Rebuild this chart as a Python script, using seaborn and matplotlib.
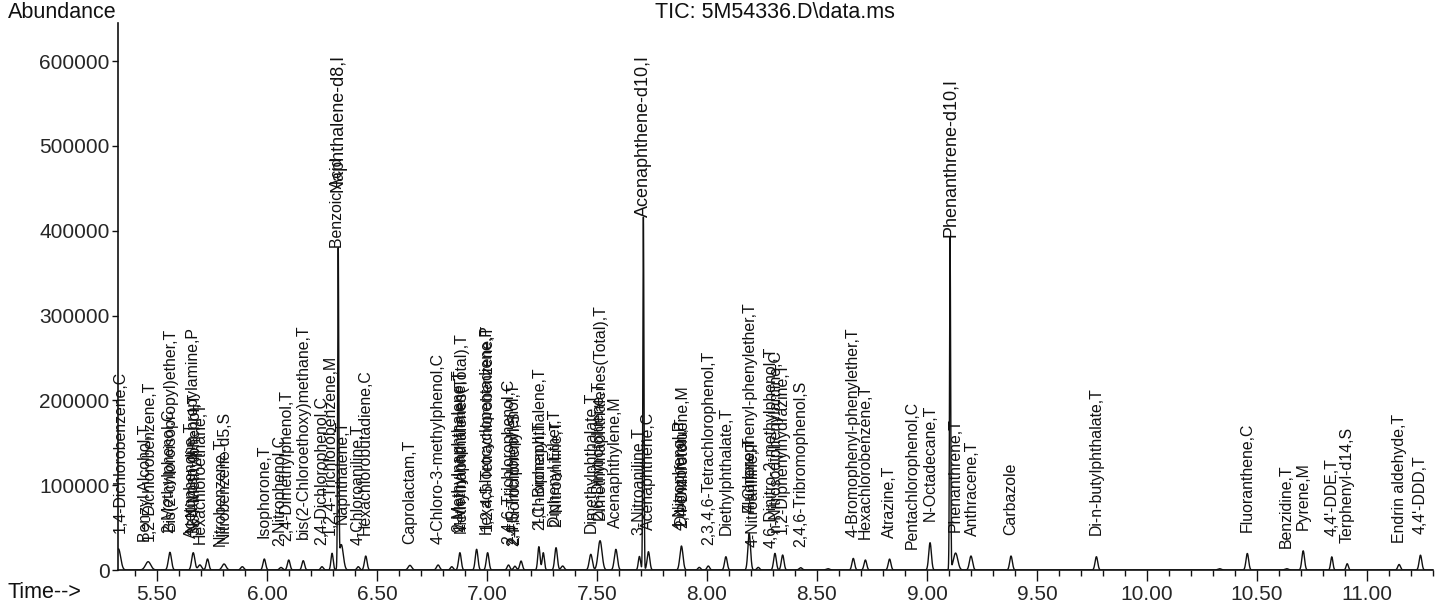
import numpy as np
import pandas as pd
import matplotlib
matplotlib.use("Agg")
import matplotlib.pyplot as plt
from matplotlib.ticker import MultipleLocator, FixedLocator, FuncFormatter
import seaborn as sns

# ---- peak table of the total ion chromatogram (retention time, abundance, width) ----
peak_times = [5.325, 5.46, 5.559, 5.665, 5.695, 5.73, 5.805, 5.888, 5.988, 6.064,
              6.099, 6.165, 6.25, 6.296, 6.324, 6.338, 6.415, 6.449, 6.65, 6.778,
              6.84, 6.877, 6.953, 7.003, 7.098, 7.127, 7.155, 7.236, 7.256, 7.314,
              7.344, 7.472, 7.514, 7.586, 7.693, 7.711, 7.734, 7.884, 7.965, 8.006,
              8.086, 8.192, 8.233, 8.309, 8.344, 8.426, 8.55, 8.665, 8.72, 8.83,
              9.014, 9.105, 9.13, 9.2, 9.382, 9.77, 10.33, 10.456, 10.635, 10.71,
              10.84, 10.91, 11.146, 11.243]
peak_heights = [25000, 9800, 20900, 20400, 6000, 13000, 7100, 3900, 13000, 3000,
                11800, 11000, 3900, 19700, 371000, 30000, 3900, 16500, 5500, 5900,
                3900, 20400, 24400, 20400, 5900, 4500, 10600, 27500, 20400, 26300,
                4700, 18500, 34600, 24400, 16000, 416000, 21600, 28300, 3100, 4700,
                15700, 43200, 3100, 19600, 17700, 2700, 1500, 13700, 11800, 12900,
                32200, 392000, 20000, 16500, 16500, 15700, 1500, 19500, 1500, 22600,
                15500, 7400, 6500, 17500]
peak_widths = [0.010, 0.012, 0.007, 0.007, 0.008, 0.006, 0.009, 0.007, 0.006, 0.007,
               0.006, 0.006, 0.006, 0.005, 0.0025, 0.009, 0.006, 0.006, 0.008, 0.007,
               0.006, 0.006, 0.006, 0.006, 0.006, 0.006, 0.006, 0.005, 0.005, 0.006,
               0.007, 0.007, 0.009, 0.007, 0.005, 0.0025, 0.006, 0.007, 0.006, 0.006,
               0.006, 0.006, 0.006, 0.006, 0.006, 0.007, 0.008, 0.006, 0.006, 0.006,
               0.006, 0.0025, 0.010, 0.007, 0.006, 0.006, 0.008, 0.006, 0.008, 0.006,
               0.005, 0.005, 0.006, 0.006]

# ---- compound annotations ----
label_names = [
    "1,4-Dichlorobenzene,C", "Benzyl Alcohol,T", "1,2-Dichlorobenzene,T",
    "2-Methylphenol,C", "Bis(2-chloroisopropyl)ether,T", "Acetophenone,T",
    "N-Nitroso-di-n-propylamine,P", "3&4-Methylphenol,T", "Hexachloroethane,T",
    "Nitrobenzene,T", "Nitrobenzene-d5,S", "Isophorone,T", "2-Nitrophenol,C",
    "2,4-Dimethylphenol,T", "bis(2-Chloroethoxy)methane,T", "2,4-Dichlorophenol,C",
    "1,2,4-Trichlorobenzene,M", "Benzoic Acid", "Naphthalene-d8,I", "Naphthalene,T",
    "4-Chloroaniline,T", "Hexachlorobutadiene,C", "Caprolactam,T",
    "4-Chloro-3-methylphenol,C", "2-Methylnaphthalene,T", "1-Methylnaphthalene,T",
    "Methylnaphthalenes(Total),T", "Hexachlorocyclopentadiene,P",
    "1,2,4,5-Tetrachlorobenzene,T", "2,4,6-Trichlorophenol,C", "2,4,5-Trichlorophenol,T",
    "2-Fluorobiphenyl,S", "1,1'-Biphenyl,T", "2-Chloronaphthalene,T", "Diphenyl Ether,T",
    "2-Nitroaniline,T", "Dimethylphthalate,T", "2,6-Dinitrotoluene,T",
    "Dimethylnaphthalenes(Total),T", "Acenaphthylene,M", "3-Nitroaniline,T",
    "Acenaphthene-d10,I", "Acenaphthene,C", "4-Nitrophenol,P", "Dibenzofuran,T",
    "2,4-Dinitrotoluene,M", "2,3,4,6-Tetrachlorophenol,T", "Diethylphthalate,T",
    "Fluorene,T", "4-Chlorophenyl-phenylether,T", "4-Nitroaniline,T",
    "4,6-Dinitro-2-methylphenol,T", "n-Nitrosodiphenylamine,C", "1,2-Diphenylhydrazine,T",
    "2,4,6-Tribromophenol,S", "4-Bromophenyl-phenylether,T", "Hexachlorobenzene,T",
    "Atrazine,T", "Pentachlorophenol,C", "N-Octadecane,T", "Phenanthrene-d10,I",
    "Phenanthrene,T", "Anthracene,T", "Carbazole", "Di-n-butylphthalate,T",
    "Fluoranthene,C", "Benzidine,T", "Pyrene,M", "4,4'-DDE,T", "Terphenyl-d14,S",
    "Endrin aldehyde,T", "4,4'-DDD,T",
]
label_times = [
    5.335, 5.45, 5.465,
    5.553, 5.562, 5.655,
    5.66, 5.672, 5.697,
    5.79, 5.805, 5.988, 6.06,
    6.092, 6.165, 6.25,
    6.29, 6.322, 6.324, 6.342,
    6.413, 6.445, 6.65,
    6.778, 6.872, 6.877,
    6.882, 6.997,
    7.003, 7.098, 7.12,
    7.127, 7.236, 7.242, 7.31,
    7.318, 7.472, 7.51,
    7.517, 7.586, 7.69,
    7.711, 7.734, 7.876, 7.884,
    7.89, 8.006, 8.086,
    8.19, 8.194, 8.21,
    8.29, 8.31, 8.344,
    8.426, 8.665, 8.72,
    8.83, 8.935, 9.014, 9.105,
    9.128, 9.205, 9.382, 9.77,
    10.456, 10.635, 10.71, 10.84, 10.91,
    11.146, 11.243,
]

y_ticks = [0, 100000, 200000, 300000, 400000, 500000, 600000]
x_tick_labels = ["5.50", "6.00", "6.50", "7.00", "7.50", "8.00", "8.50",
                 "9.00", "9.50", "10.00", "10.50", "11.00"]

# ---- build the trace from the peak table ----
t = np.arange(5.30, 11.32, 0.0005)
signal = np.zeros_like(t)
for rt, h, w in zip(peak_times, peak_heights, peak_widths):
    signal += h * np.exp(-0.5 * ((t - rt) / w) ** 2)
trace = pd.DataFrame({"Time": t, "Abundance": signal})

sns.set_theme(style="white")
plt.rcParams["font.family"] = ["Liberation Sans", "DejaVu Sans"]

fig = plt.figure(figsize=(14.52, 6.13), dpi=100)
ax = fig.add_axes([118 / 1452, 1 - 570 / 613, (1433 - 118) / 1452, (570 - 23) / 613])

sns.lineplot(data=trace, x="Time", y="Abundance", ax=ax, color="#111111",
             linewidth=1.0, estimator=None, sort=False)

ax.set_xlim(5.323, 11.30)
ax.set_ylim(0, 645000)

for side in ("top", "right"):
    ax.spines[side].set_visible(False)
for side in ("left", "bottom"):
    ax.spines[side].set_color("#111111")
    ax.spines[side].set_linewidth(1.2)

ax.xaxis.set_major_locator(FixedLocator([float(s) for s in x_tick_labels]))
ax.set_xticklabels(x_tick_labels)
ax.xaxis.set_minor_locator(MultipleLocator(0.1))
ax.yaxis.set_major_locator(FixedLocator(y_ticks))
ax.yaxis.set_major_formatter(FuncFormatter(lambda v, p: f"{int(v)}"))
ax.tick_params(axis="x", which="major", direction="out", length=8, width=1,
               color="#111111", labelsize=15, pad=3, bottom=True)
ax.tick_params(axis="x", which="minor", direction="out", length=4, width=1,
               color="#111111", bottom=True)
ax.tick_params(axis="y", which="major", direction="out", length=4, width=1,
               color="#111111", labelsize=15, pad=2, left=True)
ax.set_xlabel("")
ax.set_ylabel("")
ax.grid(False)

# compound names, rotated, just above each peak; tags on the big spikes sit on
# the apex, and the naphthalene-d8 tag is stacked over the benzoic acid tag
gap_small = 25000
stack_lift = 66000
texts = {}
for name, rt in zip(label_names, label_times):
    win = (t > rt - 0.003) & (t < rt + 0.003)
    base = signal[win].max()
    gap = gap_small if base < 100000 else 0
    size = 13 if name.endswith(",I") else 11.4
    texts[name] = ax.text(rt, base + gap, name, rotation=90, ha="center", va="bottom",
                          fontsize=size, color="#111111", clip_on=False)

texts["Naphthalene-d8,I"].set_y(texts["Benzoic Acid"].get_position()[1] + stack_lift)

fig.text(8 / 1452, 1 - 12 / 613, "Abundance", ha="left", va="center", fontsize=15.5,
         color="#111111")
fig.text(775 / 1452, 1 - 12 / 613, "TIC: 5M54336.D\\data.ms", ha="center", va="center",
         fontsize=15.5, color="#111111")
fig.text(8 / 1452, 1 - 592 / 613, "Time-->", ha="left", va="center", fontsize=15.5,
         color="#111111")

fig.savefig("out.png", dpi=100, facecolor="white")
